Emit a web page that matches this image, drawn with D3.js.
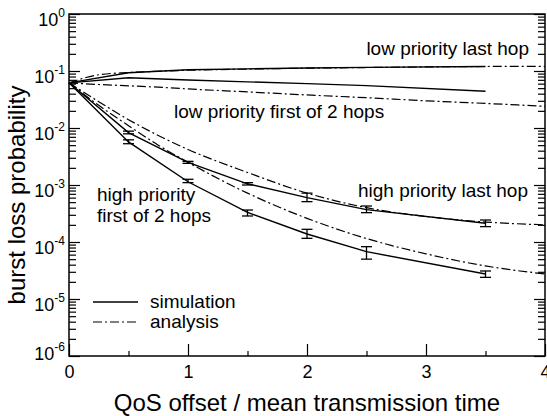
<!DOCTYPE html>
<html>
<head>
<meta charset="utf-8">
<script src="https://cdn.jsdelivr.net/npm/d3@7"></script>
<style>
  html, body { margin: 0; padding: 0; background: #fff; }
  svg { display: block; font-family: "Liberation Sans", Arial, sans-serif; }
</style>
</head>
<body>
<div id="chart"></div>
<script>
// x values for simulation points and analysis curves
const xSim = [0, 0.5, 1, 1.5, 2, 2.5, 3.5];
const xAna = [0, 0.25, 0.5, 0.75, 1, 1.5, 2, 2.5, 3, 3.5, 4];

// simulation (solid)
const simLowLast = [0.062, 0.093, 0.105, 0.109, 0.113, 0.116, 0.12];
const simLowFirst = [0.062, 0.076, 0.0695, 0.0645, 0.060, 0.0555, 0.044];
const simHighLast = [0.062, 0.0083, 0.0025, 0.00105, 0.0006, 0.00037, 0.000213];
const simHighFirst = [0.062, 0.0057, 0.00114, 0.00033, 0.000138, 0.0000676, 0.0000275];

// error bars (null = none)
const hiLastLo = [null, 0.0079, 0.0024, 0.00100, 0.00051, 0.000327, 0.000186];
const hiLastHi = [null, 0.0088, 0.0026, 0.00110, 0.00072, 0.000428, 0.000243];
const hiFirstLo = [null, 0.0053, 0.0011, 0.000286, 0.000116, 0.00005, 0.000024];
const hiFirstHi = [null, 0.0062, 0.00126, 0.000364, 0.000167, 0.0000828, 0.000031];

// analysis (dash-dot)
const anaLowLast = [0.062, 0.086, 0.094, 0.099, 0.103, 0.108, 0.112, 0.115, 0.118, 0.12, 0.121];
const anaLowFirst = [0.062, 0.058, 0.055, 0.052, 0.0485, 0.043, 0.038, 0.034, 0.030, 0.027, 0.024];
const anaHighLast = [0.062, 0.029, 0.014, 0.0074, 0.0042, 0.00166, 0.00072, 0.0004, 0.00028, 0.000224, 0.0002];
const anaHighFirst = [0.062, 0.025, 0.011, 0.0050, 0.0025, 0.00072, 0.00026, 0.000115, 0.000062, 0.000038, 0.0000275];

// tick values
const xTicks = [0, 1, 2, 3, 4];
const xMinorTicks = [0.5, 1.5, 2.5, 3.5];
const yExps = [0, -1, -2, -3, -4, -5, -6];

const W = 547, H = 416;
const plot = { left: 69, right: 545, top: 14, bottom: 356 };
const dashDot = "9,3,2,3";

const svg = d3.select("#chart").append("svg")
  .attr("width", W)
  .attr("height", H);

const x = d3.scaleLinear().domain([0, 4]).range([plot.left, plot.right]);
const y = d3.scaleLog().domain([1e-6, 1]).range([plot.bottom, plot.top]);

// minor log ticks 2..9 in every decade
const yMinor = [];
yExps.slice(1).forEach(e => {
  for (let k = 2; k <= 9; k++) yMinor.push(k * Math.pow(10, e));
});
const yMajor = yExps.map(e => Math.pow(10, e));

// left axis, ticks pointing inward
svg.append("g")
  .attr("transform", `translate(${plot.left},0)`)
  .call(d3.axisLeft(y).tickValues(yMinor).tickSize(-7).tickFormat(""));
const yAxisG = svg.append("g")
  .attr("transform", `translate(${plot.left},0)`)
  .call(d3.axisLeft(y).tickValues(yMajor).tickSize(-11).tickFormat(""));

// right axis
svg.append("g")
  .attr("transform", `translate(${plot.right},0)`)
  .call(d3.axisRight(y).tickValues(yMinor).tickSize(-7).tickFormat(""));
svg.append("g")
  .attr("transform", `translate(${plot.right},0)`)
  .call(d3.axisRight(y).tickValues(yMajor).tickSize(-11).tickFormat(""));

// bottom axis
const xAxisG = svg.append("g")
  .attr("transform", `translate(0,${plot.bottom})`)
  .call(d3.axisBottom(x).tickValues(xTicks).tickSize(-12).tickFormat(d3.format("d")));
svg.append("g")
  .attr("transform", `translate(0,${plot.bottom})`)
  .call(d3.axisBottom(x).tickValues(xMinorTicks).tickSize(-5).tickFormat(""));

svg.selectAll(".domain").remove();
svg.selectAll(".tick line").attr("stroke", "#000").attr("stroke-width", 1.2);

xAxisG.selectAll(".tick text")
  .attr("y", 9)
  .attr("dy", "0.71em")
  .attr("font-size", 18)
  .attr("font-family", "Liberation Sans, Arial, sans-serif")
  .attr("fill", "#000");

// y labels: 10 with superscript exponent
yAxisG.selectAll(".tick").each(function (d) {
  const e = Math.round(Math.log10(d));
  const t = d3.select(this).append("text")
    .attr("x", -4)
    .attr("y", e === -6 ? 3 : 11)
    .attr("text-anchor", "end")
    .attr("fill", "#000")
    .attr("font-size", 18)
    .attr("font-family", "Liberation Sans, Arial, sans-serif");
  t.append("tspan").text("10");
  t.append("tspan").attr("font-size", 12).attr("dy", -9).text(String(e));
});

// plot frame
svg.append("rect")
  .attr("x", plot.left)
  .attr("y", plot.top)
  .attr("width", plot.right - plot.left)
  .attr("height", plot.bottom - plot.top)
  .attr("fill", "none")
  .attr("stroke", "#000")
  .attr("stroke-width", 1.5);

const g = svg.append("g");

const simLine = d3.line().x(d => x(d[0])).y(d => y(d[1]));
const anaLine = d3.line().x(d => x(d[0])).y(d => y(d[1])).curve(d3.curveMonotoneX);

[simLowLast, simLowFirst, simHighLast, simHighFirst].forEach(s => {
  g.append("path")
    .attr("d", simLine(xSim.map((v, i) => [v, s[i]])))
    .attr("fill", "none")
    .attr("stroke", "#000")
    .attr("stroke-width", 1.4);
});

[anaLowLast, anaLowFirst, anaHighLast, anaHighFirst].forEach(s => {
  g.append("path")
    .attr("d", anaLine(xAna.map((v, i) => [v, s[i]])))
    .attr("fill", "none")
    .attr("stroke", "#000")
    .attr("stroke-width", 1.2)
    .attr("stroke-dasharray", dashDot);
});

// error bars
const drawErr = (lo, hi) => {
  xSim.forEach((v, i) => {
    if (lo[i] == null) return;
    const cx = x(v), capW = 5.5;
    g.append("line").attr("x1", cx).attr("x2", cx).attr("y1", y(lo[i])).attr("y2", y(hi[i]));
    g.append("line").attr("x1", cx - capW).attr("x2", cx + capW).attr("y1", y(lo[i])).attr("y2", y(lo[i]));
    g.append("line").attr("x1", cx - capW).attr("x2", cx + capW).attr("y1", y(hi[i])).attr("y2", y(hi[i]));
  });
};
drawErr(hiLastLo, hiLastHi);
drawErr(hiFirstLo, hiFirstHi);
g.selectAll("line").attr("stroke", "#000").attr("stroke-width", 1.3);

// annotations
const label = (tx, ty, txt, anchor) => {
  svg.append("text")
    .attr("x", tx)
    .attr("y", ty)
    .attr("text-anchor", anchor || "start")
    .attr("font-size", 19)
    .attr("fill", "#000")
    .text(txt);
};
label(529, 55, "low priority last hop", "end");
label(174, 118, "low priority first of 2 hops");
label(528, 197, "high priority last hop", "end");
label(97, 201, "high priority");
label(97, 222, "first of 2 hops");

// legend
svg.append("line")
  .attr("x1", 93).attr("x2", 138).attr("y1", 302).attr("y2", 302)
  .attr("stroke", "#000").attr("stroke-width", 1.4);
svg.append("line")
  .attr("x1", 93).attr("x2", 138).attr("y1", 322).attr("y2", 322)
  .attr("stroke", "#000").attr("stroke-width", 1.2).attr("stroke-dasharray", dashDot);
label(150, 308, "simulation");
label(150, 328, "analysis");

// axis titles
svg.append("text")
  .attr("x", (plot.left + plot.right) / 2)
  .attr("y", 411)
  .attr("text-anchor", "middle")
  .attr("font-size", 24)
  .text("QoS offset / mean transmission time");

svg.append("text")
  .attr("transform", "translate(25,195) rotate(-90)")
  .attr("text-anchor", "middle")
  .attr("font-size", 24)
  .text("burst loss probability");
</script>
</body>
</html>
